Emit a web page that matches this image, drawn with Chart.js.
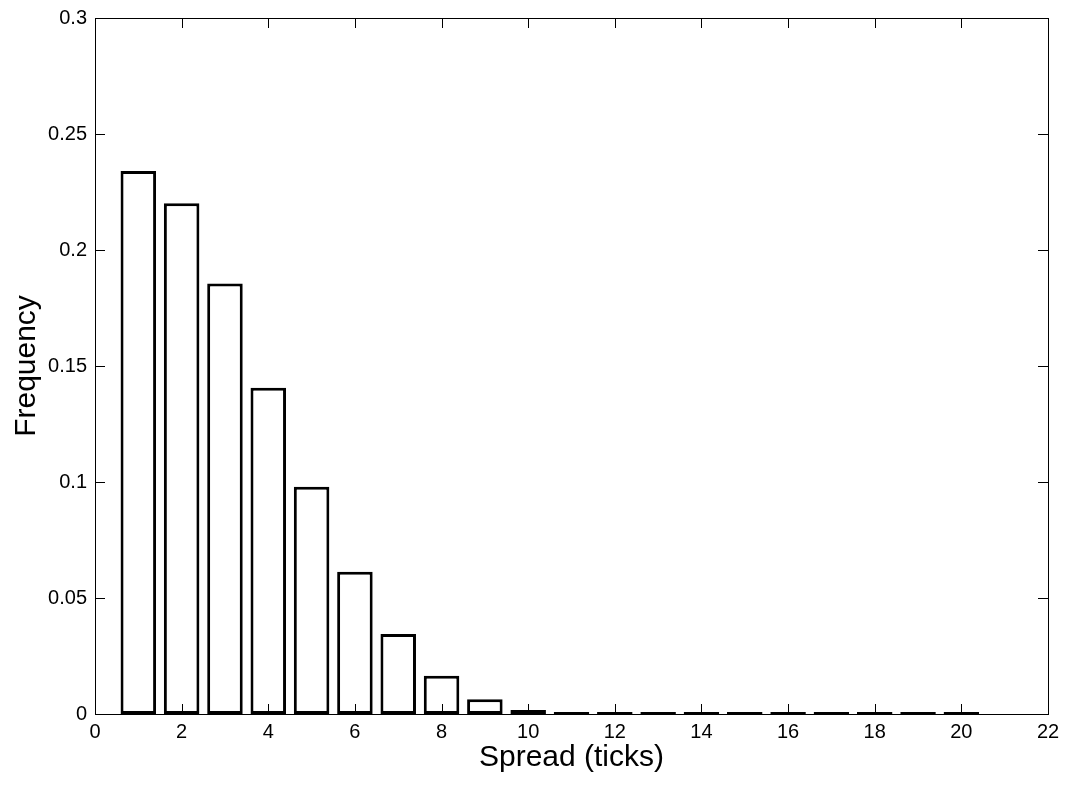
<!DOCTYPE html>
<html>
<head>
<meta charset="utf-8">
<script src="https://cdn.jsdelivr.net/npm/chart.js@4/dist/chart.umd.min.js"></script>
<style>
    html, body { margin: 0; padding: 0; background: #fff; }
    #wrap { width: 1065px; height: 787px; }
</style>
</head>
<body>
<div id="wrap"><canvas id="spreadChart"></canvas></div>
<script>
// spread values (ticks) and observed frequency
const spreads = [1, 2, 3, 4, 5, 6, 7, 8, 9, 10, 11, 12, 13, 14, 15, 16, 17, 18, 19, 20];
const frequencies = [0.2341, 0.2201, 0.1856, 0.1406, 0.0980, 0.0613, 0.0345, 0.0165, 0.0064, 0.0017,
    0.0004, 0.0001, 0.0001, 0.0001, 0.0001, 0.0001, 0.0001, 0.0001, 0.0001, 0.0001];
const xTicks = [0, 2, 4, 6, 8, 10, 12, 14, 16, 18, 20, 22];
const yTicks = [0, 0.05, 0.1, 0.15, 0.2, 0.25, 0.3];

const fontFamily = "'Liberation Sans', Arial, Helvetica, sans-serif";
Chart.defaults.color = "#000";
Chart.defaults.font.family = fontFamily;

// matlab style box with inward tick marks
const boxPlugin = {
    id: "box",
    afterDatasetsDraw(chart) {
        const { ctx, chartArea: a, scales } = chart;
        const len = 10;
        ctx.save();
        ctx.strokeStyle = "#000";
        ctx.lineWidth = 1;
        ctx.beginPath();
        xTicks.forEach((v) => {
            const px = Math.round(scales.x.getPixelForValue(v)) + 0.5;
            ctx.moveTo(px, a.bottom);
            ctx.lineTo(px, a.bottom - len);
            ctx.moveTo(px, a.top);
            ctx.lineTo(px, a.top + len);
        });
        yTicks.forEach((v) => {
            const py = Math.round(scales.y.getPixelForValue(v)) + 0.5;
            ctx.moveTo(a.left, py);
            ctx.lineTo(a.left + len, py);
            ctx.moveTo(a.right, py);
            ctx.lineTo(a.right - len, py);
        });
        ctx.stroke();
        ctx.strokeRect(Math.round(a.left) + 0.5, Math.round(a.top) + 0.5,
            Math.round(a.right - a.left), Math.round(a.bottom - a.top));
        ctx.restore();
    }
};

new Chart(document.getElementById("spreadChart"), {
    type: "bar",
    data: {
        datasets: [{
            data: spreads.map((s, i) => ({ x: s, y: frequencies[i] })),
            backgroundColor: "#fff",
            borderColor: "#000",
            borderWidth: 3,
            borderSkipped: false,
            minBarLength: 2,
            barPercentage: 0.82,
            categoryPercentage: 1.0
        }]
    },
    options: {
        responsive: true,
        maintainAspectRatio: false,
        animation: false,
        layout: {
            padding: { top: 18, right: 17, left: 0, bottom: 0 }
        },
        plugins: {
            legend: { display: false },
            tooltip: { enabled: false }
        },
        scales: {
            x: {
                type: "linear",
                min: 0,
                max: 22,
                offset: false,
                grid: { display: false, offset: false, drawTicks: false },
                border: { display: false },
                afterBuildTicks: (scale) => {
                    scale.ticks = xTicks.map((v) => ({ value: v }));
                },
                ticks: {
                    font: { size: 20 },
                    padding: 6,
                    maxRotation: 0,
                    callback: (v) => String(v)
                },
                title: {
                    display: true,
                    text: "Spread (ticks)",
                    font: { size: 30 },
                    padding: { top: 0, bottom: 11 }
                },
                afterFit: (scale) => {
                    scale.height = 73;
                    scale.paddingLeft = 0;
                    scale.paddingRight = 0;
                }
            },
            y: {
                min: 0,
                max: 0.3,
                grid: { display: false, drawTicks: false },
                border: { display: false },
                afterBuildTicks: (scale) => {
                    scale.ticks = yTicks.map((v) => ({ value: v }));
                },
                ticks: {
                    font: { size: 20 },
                    padding: 8,
                    callback: (v) => String(Number(v.toFixed(2)))
                },
                title: {
                    display: true,
                    text: "Frequency",
                    font: { size: 30 },
                    padding: { top: 9, bottom: 0 }
                },
                afterFit: (scale) => {
                    scale.width = 95;
                    scale.paddingTop = 0;
                    scale.paddingBottom = 0;
                }
            }
        }
    },
    plugins: [boxPlugin]
});
</script>
</body>
</html>
